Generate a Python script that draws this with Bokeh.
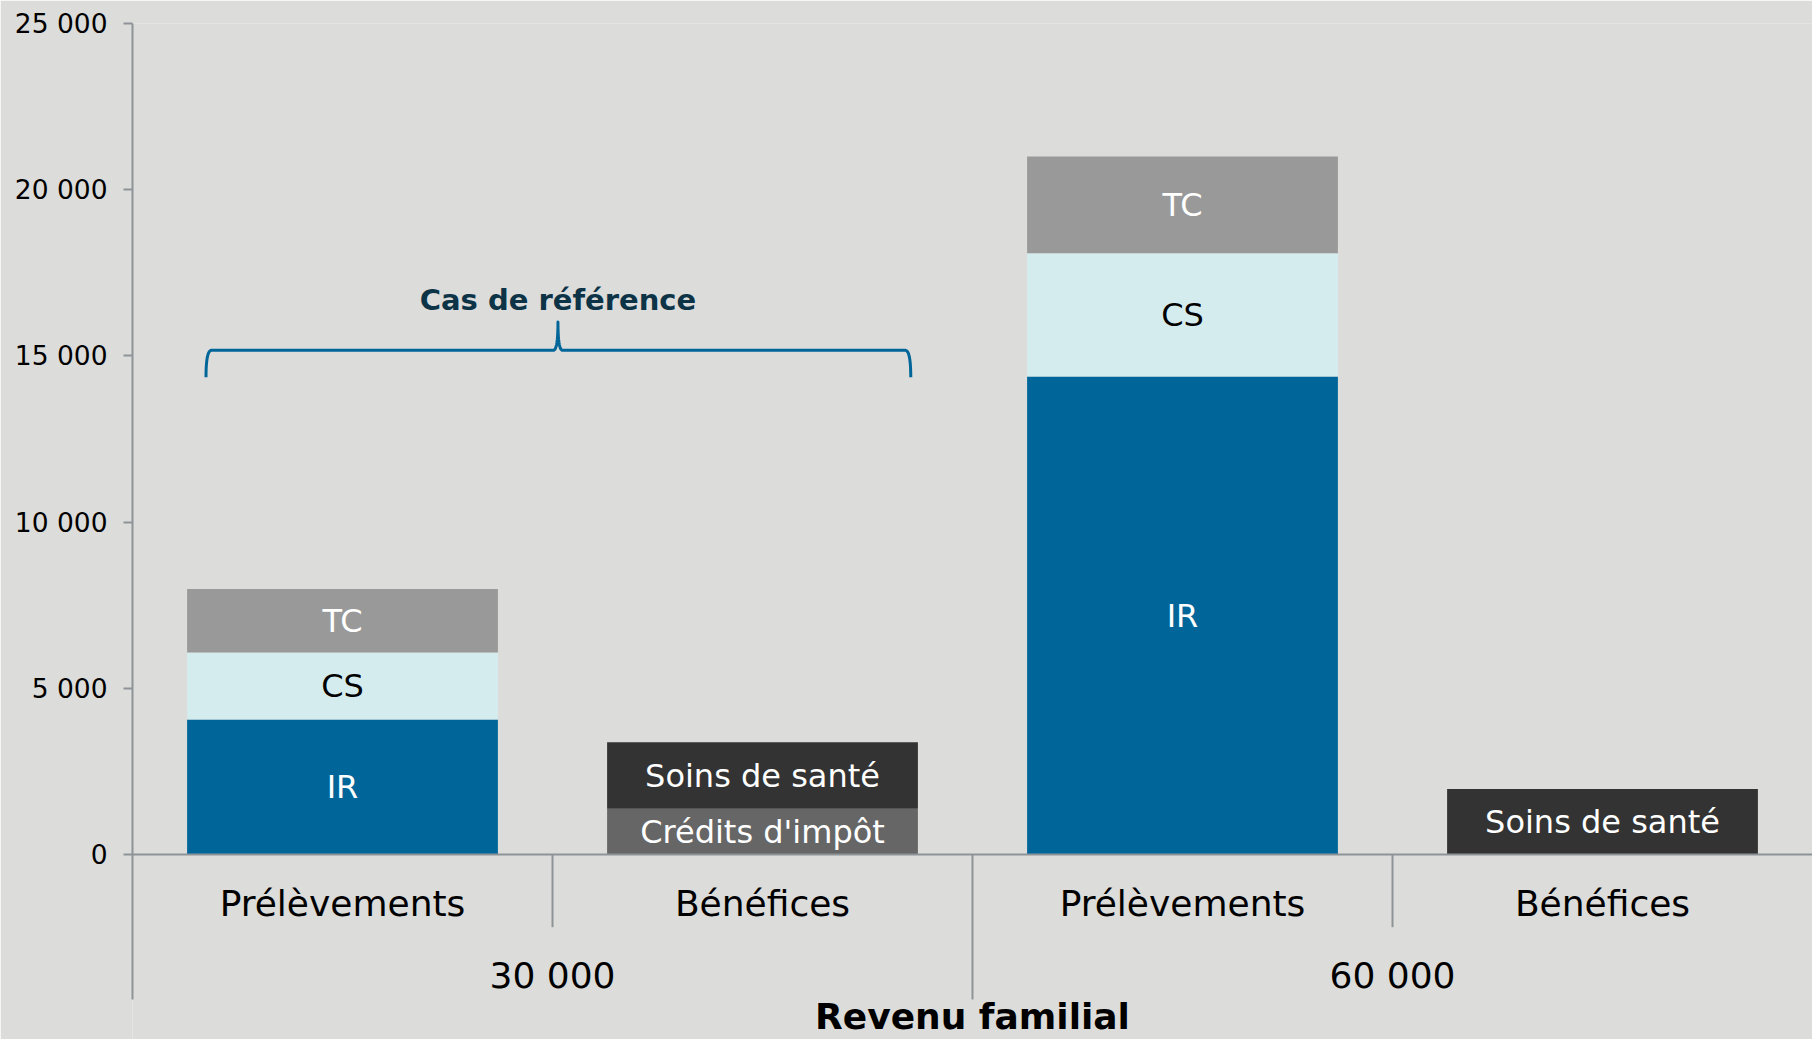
import numpy as np
from bokeh.plotting import figure
from bokeh.models import FactorRange, FixedTicker
from bokeh.core.properties import value
from bokeh.embed import file_html
from bokeh.resources import INLINE

# ---------------- data ----------------
groups = ["30 000", "60 000"]
kinds = ["Prélèvements", "Bénéfices"]
factors = [(g, k) for g in groups for k in kinds]

# Prélèvements stacks (bottom -> top)
ir = [4070, 14380]
cs = [2010, 3710]
tc = [1910, 2910]
# Bénéfices stacks (bottom -> top)
credits = [1380, 0]
soins = [2000, 1980]

y_ticks = [0, 5000, 10000, 15000, 20000, 25000]
y_tick_labels = ["0", "5 000", "10 000", "15 000", "20 000", "25 000"]

brace_title = "Cas de référence"
x_title = "Revenu familial"

# ---------------- style ----------------
BG = "#dcdcda"
AXIS = "#8e9397"
C_IR, C_CS, C_TC = "#006699", "#d5ecee", "#999999"
C_SOINS, C_CRED = "#333333", "#666666"
FONT = "DejaVu Sans"

y_top = 25000
y_bottom = -5557          # frame bottom (room for category labels)
axis_bottom = -4353       # where the vertical axis / long separators stop
short_sep_bottom = -2178

p = figure(x_range=FactorRange(*factors, group_padding=0, factor_padding=0, range_padding=0),
           y_range=(y_bottom, y_top),
           width=1812, height=1039, output_backend="svg", toolbar_location=None,
           min_border_left=132, min_border_right=0, min_border_top=23, min_border_bottom=0)
p.background_fill_color = BG
p.border_fill_color = BG
p.outline_line_color = None
p.grid.visible = False

# ---------------- bars ----------------
pre_x = [(g, "Prélèvements") for g in groups]
ben_x = [(g, "Bénéfices") for g in groups]
W = 0.74

ir_top = [a for a in ir]
cs_top = [a + b for a, b in zip(ir, cs)]
tc_top = [a + b + c for a, b, c in zip(ir, cs, tc)]
p.vbar(x=pre_x, bottom=0, top=ir_top, width=W, fill_color=C_IR, line_color=None)
p.vbar(x=pre_x, bottom=ir_top, top=cs_top, width=W, fill_color=C_CS, line_color=None)
p.vbar(x=pre_x, bottom=cs_top, top=tc_top, width=W, fill_color=C_TC, line_color=None)

cred_top = [a for a in credits]
soins_top = [a + b for a, b in zip(credits, soins)]
p.vbar(x=ben_x, bottom=0, top=cred_top, width=W, fill_color=C_CRED, line_color=None)
p.vbar(x=ben_x, bottom=cred_top, top=soins_top, width=W, fill_color=C_SOINS, line_color=None)

# ---------------- segment labels ----------------
lab_x, lab_y, lab_t, lab_c = [], [], [], []
for i, g in enumerate(groups):
    segs = [(0, ir_top[i], "IR", "white"), (ir_top[i], cs_top[i], "CS", "black"),
            (cs_top[i], tc_top[i], "TC", "white")]
    for b, t, name, col in segs:
        if t - b > 0:
            lab_x.append((g, "Prélèvements")); lab_y.append((b + t) / 2); lab_t.append(name); lab_c.append(col)
    segs = [(0, cred_top[i], "Crédits d'impôt", "white"), (cred_top[i], soins_top[i], "Soins de santé", "white")]
    for b, t, name, col in segs:
        if t - b > 0:
            lab_x.append((g, "Bénéfices")); lab_y.append((b + t) / 2); lab_t.append(name); lab_c.append(col)

p.text(x=lab_x, y=lab_y, text=lab_t, text_color=lab_c, text_align="center", text_baseline="middle",
       text_font=value(FONT), text_font_size="32px")

# ---------------- category separators ----------------
sx, sy1 = [], []
for gi, g in enumerate(groups):
    for ki, k in enumerate(kinds):
        last_kind = ki == len(kinds) - 1
        if last_kind and gi == len(groups) - 1:
            continue
        sx.append((g, k, 0.5))
        sy1.append(axis_bottom if last_kind else short_sep_bottom)
p.segment(x0=sx, y0=[0] * len(sx), x1=sx, y1=sy1, line_color=AXIS, line_width=2)

# ---------------- brace "Cas de référence" ----------------
def quad(p0, p1, p2, n=14):
    ts = np.linspace(0, 1, n)
    return [((1 - t) ** 2 * p0[0] + 2 * (1 - t) * t * p1[0] + t ** 2 * p2[0],
             (1 - t) ** 2 * p0[1] + 2 * (1 - t) * t * p1[1] + t ** 2 * p2[1]) for t in ts]

L, R, C = -0.325, 1.353, 0.513
y_end, y_mid, y_peak = 14360, 15170, 16020
rx, cx = 0.013, 0.011
pts = []
pts += quad((L, y_end), (L, y_mid), (L + rx, y_mid))
pts += quad((C - cx, y_mid), (C, y_mid), (C, y_peak))
pts += quad((C, y_peak), (C, y_mid), (C + cx, y_mid))
pts += quad((R - rx, y_mid), (R, y_mid), (R, y_end))
bx = [("30 000", "Prélèvements", float(u)) for u, _ in pts]
by = [float(v) for _, v in pts]
p.line(x=bx, y=by, line_color=C_IR, line_width=3, line_join="round")

p.text(x=[("30 000", "Prélèvements", C)], y=[16680], text=[brace_title], text_align="center",
       text_baseline="alphabetic", text_font=value(FONT), text_font_style="bold",
       text_font_size="29px", text_color="#0d3347")

# ---------------- axes ----------------
yax = p.yaxis[0]
yax.ticker = FixedTicker(ticks=y_ticks)
yax.major_label_overrides = {t: l for t, l in zip(y_ticks, y_tick_labels)}
yax.bounds = (axis_bottom, y_top)
yax.axis_line_color = AXIS
yax.axis_line_width = 2
yax.major_tick_line_color = AXIS
yax.major_tick_line_width = 2
yax.major_tick_out = 9
yax.major_tick_in = 0
yax.minor_tick_line_color = None
yax.major_label_standoff = 16
yax.major_label_text_font = FONT
yax.major_label_text_font_size = "26.5px"
yax.major_label_text_color = "black"

xax = p.xaxis[0]
xax.fixed_location = 0
xax.axis_line_color = AXIS
xax.axis_line_width = 2
xax.major_tick_line_color = None
xax.minor_tick_line_color = None
xax.major_tick_out = 0
xax.major_tick_in = 0
xax.separator_line_color = None
xax.major_label_standoff = 28
xax.major_label_text_font = FONT
xax.major_label_text_font_size = "36px"
xax.major_label_text_color = "black"
xax.group_text_font = FONT
xax.group_text_font_size = "36px"
xax.group_text_color = "black"
xax.group_text_font_style = "normal"
xax.axis_label = x_title
xax.axis_label_text_font = FONT
xax.axis_label_text_font_size = "36px"
xax.axis_label_text_font_style = "bold"
xax.axis_label_text_color = "black"
xax.axis_label_standoff = -3

open("out.html", "w").write(file_html(p, INLINE))
